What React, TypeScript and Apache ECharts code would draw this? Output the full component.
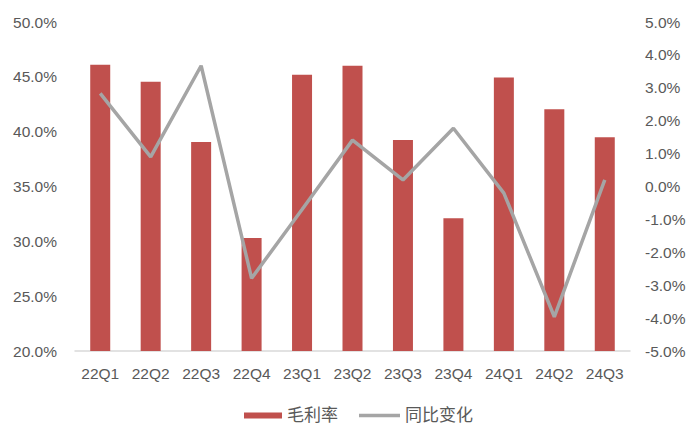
import React, { useEffect, useRef } from "react";
import * as echarts from "echarts";

const categories = ["22Q1", "22Q2", "22Q3", "22Q4", "23Q1", "23Q2", "23Q3", "23Q4", "24Q1", "24Q2", "24Q3"];
const grossMargin = [46.1, 44.55, 39.05, 30.3, 45.2, 46.0, 39.25, 32.1, 44.95, 42.05, 39.5];
const yoyChange = [2.83, 0.9, 3.67, -2.79, -0.7, 1.41, 0.2, 1.77, -0.2, -3.96, 0.2];

const FONT = '"Liberation Sans", Arial, "Noto Sans CJK SC", sans-serif';
const TEXT = "#595959";

export default function App() {
  const ref = useRef<HTMLDivElement>(null);
  useEffect(() => {
    if (!ref.current) return;
    const chart = echarts.init(ref.current, undefined, { renderer: "svg" });
    chart.setOption({
      animation: false,
      backgroundColor: "#ffffff",
      textStyle: { fontFamily: FONT },
      grid: { left: 75, right: 70, top: 22, bottom: 88, containLabel: false },
      legend: [
        {
          left: 239,
          top: 402,
          itemWidth: 38,
          itemHeight: 6,
          itemGap: 20,
          textStyle: { color: TEXT, fontSize: 17, fontFamily: FONT },
          data: [{ name: "毛利率", icon: "rect" }],
        },
        {
          left: 354,
          top: 402,
          itemWidth: 41,
          itemHeight: 3.5,
          textStyle: { color: TEXT, fontSize: 17, fontFamily: FONT },
          data: [{ name: "同比变化", icon: "rect" }],
        },
      ],
      xAxis: {
        type: "category",
        data: categories,
        axisLine: { onZero: false, lineStyle: { color: "#D9D9D9", width: 1.5 } },
        axisTick: { show: false },
        axisLabel: { color: TEXT, fontSize: 15.5, margin: 15, fontFamily: FONT },
      },
      yAxis: [
        {
          type: "value",
          min: 20,
          max: 50,
          interval: 5,
          splitLine: { show: false },
          axisLine: { show: false },
          axisTick: { show: false },
          axisLabel: {
            color: TEXT,
            fontSize: 15.5,
            margin: 18,
            fontFamily: FONT,
            formatter: (v: number) => v.toFixed(1) + "%",
          },
        },
        {
          type: "value",
          min: -5,
          max: 5,
          interval: 1,
          splitLine: { show: false },
          axisLine: { show: false },
          axisTick: { show: false },
          axisLabel: {
            color: TEXT,
            fontSize: 15.5,
            margin: 15,
            fontFamily: FONT,
            formatter: (v: number) => v.toFixed(1) + "%",
          },
        },
      ],
      series: [
        {
          name: "毛利率",
          type: "bar",
          data: grossMargin,
          barWidth: 20,
          itemStyle: { color: "#C0504D" },
          yAxisIndex: 0,
        },
        {
          name: "同比变化",
          type: "line",
          data: yoyChange,
          yAxisIndex: 1,
          symbol: "none",
          lineStyle: { color: "#A5A5A5", width: 3.5 },
          itemStyle: { color: "#A5A5A5" },
        },
      ],
    });
    return () => chart.dispose();
  }, []);
  return <div ref={ref} style={{ width: 700, height: 439, position: "absolute", left: 0, top: 0 }} />;
}
